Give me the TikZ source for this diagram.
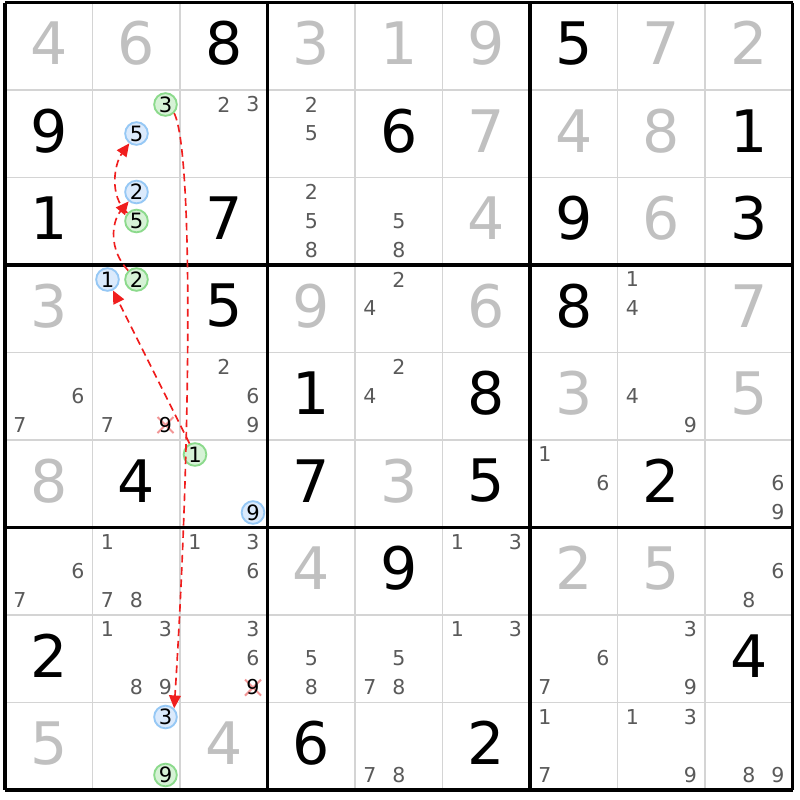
\documentclass[tikz,border=0pt]{standalone}
\usepackage{fontspec}
\setmainfont{DejaVu Sans}
\usetikzlibrary{arrows.meta}
\definecolor{gridgrey}{RGB}{212,212,212}
\definecolor{givengrey}{RGB}{192,192,192}
\definecolor{candgrey}{RGB}{90,90,90}
\definecolor{bluefill}{RGB}{219,234,252}
\definecolor{blueline}{RGB}{150,200,245}
\definecolor{greenfill}{RGB}{214,242,214}
\definecolor{greenline}{RGB}{140,218,140}
\definecolor{chainred}{RGB}{240,30,30}
\definecolor{crosspink}{RGB}{242,150,150}
\newcommand\sdkB[3]{\node[bigblack] (n#1#2) at ({5+87.5*#2+43.75},{2.5+87.5*#1+40.75}) {#3};}
\newcommand\sdkG[3]{\node[biggrey] (n#1#2) at ({5+87.5*#2+43.75},{2.5+87.5*#1+40.75}) {#3};}
\newcommand\sdkC[3]{\foreach \d in {#3}{\node[cand] (c#1#2\d) at ({5+87.5*#2+15+29*mod(\d-1,3)},{2.5+87.5*#1+14.5+29*floor((\d-1)/3)}) {\d};}}
\newcommand\sdkO[5]{\node[#1] (#2) at ({5+87.5*#4+15+29*mod(#5-1,3)},{2.5+87.5*#3+14.5+29*floor((#5-1)/3)}) {#5};}
\newcommand\sdkX[3]{\coordinate (x#1#2) at ({5+87.5*#2+15+29*mod(#3-1,3)},{2.5+87.5*#1+14.5+29*floor((#3-1)/3)});
 \draw[crossline] ([shift={(-8,-8)}]x#1#2) -- ([shift={(8,8)}]x#1#2);
 \draw[crossline] ([shift={(-8,8)}]x#1#2) -- ([shift={(8,-8)}]x#1#2);
 \node[cand,text=black] (xd#1#2) at (x#1#2) {#3};}
\begin{document}
\begin{tikzpicture}[x=0.03cm,y=-0.03cm,
 big/.style={inner sep=0pt,font=\fontsize{50}{50}\selectfont},
 bigblack/.style={big,text=black},
 biggrey/.style={big,text=givengrey},
 cand/.style={inner sep=0pt,text=candgrey,font=\fontsize{17.5}{17.5}\selectfont},
 circ/.style={circle,inner sep=0pt,minimum size=0.68cm,line width=1.6pt,text=black,font=\fontsize{18}{18}\selectfont},
 bluec/.style={circ,draw=blueline,fill=bluefill},
 greenc/.style={circ,draw=greenline,fill=greenfill},
 crossline/.style={draw=crosspink,line width=1.8pt},
 thin/.style={draw=gridgrey,line width=1.4pt},
 thick/.style={draw=black,line width=2.6pt},
 chain/.style={draw=chainred,line width=1.4pt,dash pattern=on 6.5pt off 4pt,-{Triangle[length=11pt,width=10pt]}}]
\useasboundingbox (0,0) rectangle (800,800);
\fill[white] (0,0) rectangle (800,800);
\foreach \i in {1,2,4,5,7,8}{
 \draw[thin] ({5+87.5*\i},2.5) -- ({5+87.5*\i},790);
 \draw[thin] (5,{2.5+87.5*\i}) -- (792.5,{2.5+87.5*\i});}
\foreach \i in {0,3,6,9}{
 \draw[thick] ({5+87.5*\i},2.5) -- ({5+87.5*\i},790);
 \draw[thick] (5,{2.5+87.5*\i}) -- (792.5,{2.5+87.5*\i});}
% row 0
\sdkG{0}{0}{4}\sdkG{0}{1}{6}\sdkB{0}{2}{8}\sdkG{0}{3}{3}\sdkG{0}{4}{1}\sdkG{0}{5}{9}\sdkB{0}{6}{5}\sdkG{0}{7}{7}\sdkG{0}{8}{2}
% row 1
\sdkB{1}{0}{9}\sdkO{greenc}{g3}{1}{1}{3}\sdkO{bluec}{b5}{1}{1}{5}\sdkC{1}{2}{2,3}\sdkC{1}{3}{2,5}\sdkB{1}{4}{6}\sdkG{1}{5}{7}\sdkG{1}{6}{4}\sdkG{1}{7}{8}\sdkB{1}{8}{1}
% row 2
\sdkB{2}{0}{1}\sdkO{bluec}{b2}{2}{1}{2}\sdkO{greenc}{g5}{2}{1}{5}\sdkB{2}{2}{7}\sdkC{2}{3}{2,5,8}\sdkC{2}{4}{5,8}\sdkG{2}{5}{4}\sdkB{2}{6}{9}\sdkG{2}{7}{6}\sdkB{2}{8}{3}
% row 3
\sdkG{3}{0}{3}\sdkO{bluec}{b1}{3}{1}{1}\sdkO{greenc}{g2}{3}{1}{2}\sdkB{3}{2}{5}\sdkG{3}{3}{9}\sdkC{3}{4}{2,4}\sdkG{3}{5}{6}\sdkB{3}{6}{8}\sdkC{3}{7}{1,4}\sdkG{3}{8}{7}
% row 4
\sdkC{4}{0}{6,7}\sdkC{4}{1}{7}\sdkX{4}{1}{9}\sdkC{4}{2}{2,6,9}\sdkB{4}{3}{1}\sdkC{4}{4}{2,4}\sdkB{4}{5}{8}\sdkG{4}{6}{3}\sdkC{4}{7}{4,9}\sdkG{4}{8}{5}
% row 5
\sdkG{5}{0}{8}\sdkB{5}{1}{4}\sdkO{greenc}{g1}{5}{2}{1}\sdkO{bluec}{b9}{5}{2}{9}\sdkB{5}{3}{7}\sdkG{5}{4}{3}\sdkB{5}{5}{5}\sdkC{5}{6}{1,6}\sdkB{5}{7}{2}\sdkC{5}{8}{6,9}
% row 6
\sdkC{6}{0}{6,7}\sdkC{6}{1}{1,7,8}\sdkC{6}{2}{1,3,6}\sdkG{6}{3}{4}\sdkB{6}{4}{9}\sdkC{6}{5}{1,3}\sdkG{6}{6}{2}\sdkG{6}{7}{5}\sdkC{6}{8}{6,8}
% row 7
\sdkB{7}{0}{2}\sdkC{7}{1}{1,3,8,9}\sdkC{7}{2}{3,6}\sdkX{7}{2}{9}\sdkC{7}{3}{5,8}\sdkC{7}{4}{5,7,8}\sdkC{7}{5}{1,3}\sdkC{7}{6}{6,7}\sdkC{7}{7}{3,9}\sdkB{7}{8}{4}
% row 8
\sdkG{8}{0}{5}\sdkO{bluec}{b3}{8}{1}{3}\sdkO{greenc}{g9}{8}{1}{9}\sdkG{8}{2}{4}\sdkB{8}{3}{6}\sdkC{8}{4}{7,8}\sdkB{8}{5}{2}\sdkC{8}{6}{1,7}\sdkC{8}{7}{1,3,9}\sdkC{8}{8}{8,9}
% chains
\draw[chain] (g3.south east) .. controls +(20,40) and +(16,-250) .. (b3.north east);
\draw[chain] (g1) -- (b1);
\draw[chain] (g2) .. controls +(-28,-30) and +(-25,30) .. (b2);
\draw[chain] (g5) .. controls +(-28,-25) and +(-22,30) .. (b5);
\end{tikzpicture}
\end{document}
